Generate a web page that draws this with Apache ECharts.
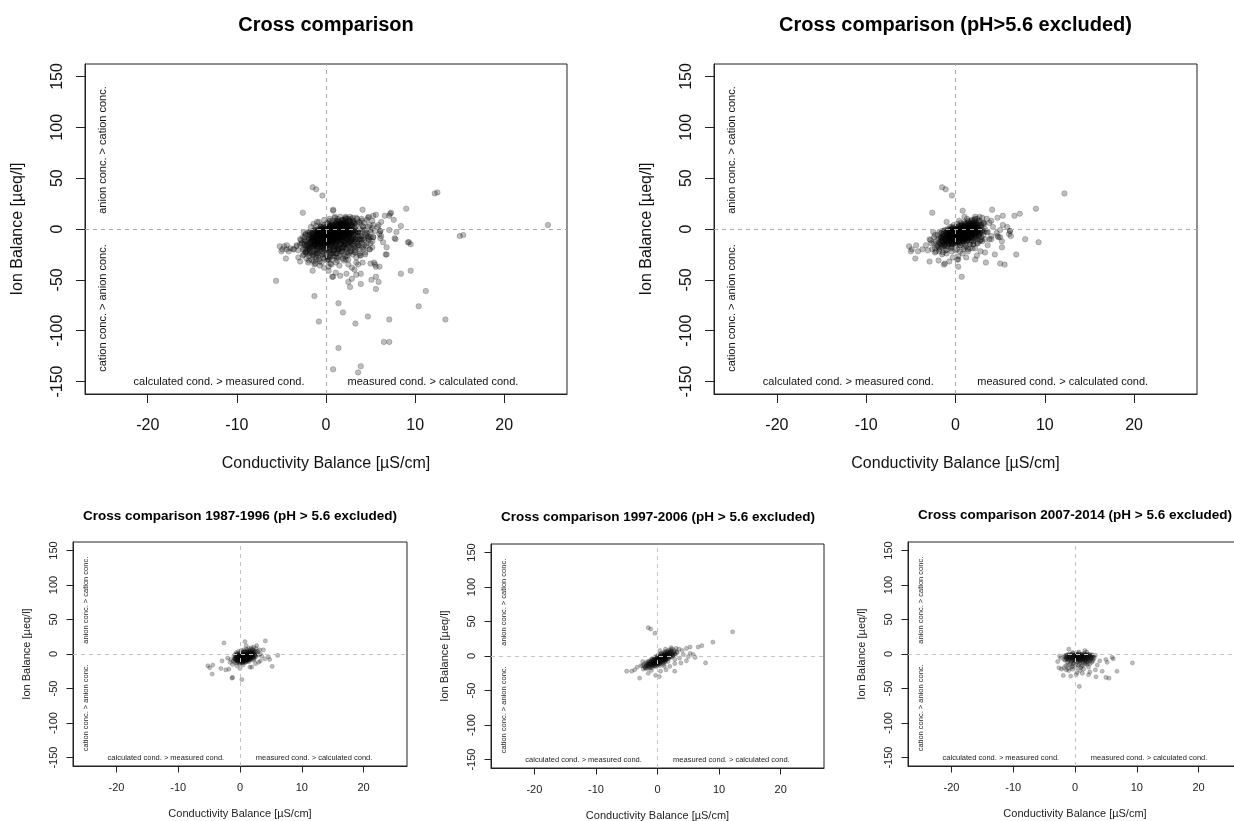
<!DOCTYPE html>
<html>
<head>
<meta charset="utf-8">
<title>Cross comparison</title>
<script src="https://cdn.jsdelivr.net/npm/echarts@6.0.0/dist/echarts.min.js"></script>
<style>
html, body { margin: 0; padding: 0; background: #fff; }
#chart { width: 1234px; height: 821px; }
</style>
</head>
<body>
<div id="chart"></div>
<script>
// axis ticks
const xTicks = [-20, -10, 0, 10, 20];
const yTicks = [-150, -100, -50, 0, 50, 100, 150];
const xRange = [-27.04, 27.04];
const yRange = [-162.24, 162.24];

const titles = [
  'Cross comparison',
  'Cross comparison (pH>5.6 excluded)',
  'Cross comparison 1987-1996 (pH > 5.6 excluded)',
  'Cross comparison 1997-2006 (pH > 5.6 excluded)',
  'Cross comparison 2007-2014 (pH > 5.6 excluded)'
];
const xName = 'Conductivity Balance [µS/cm]';
const yName = 'Ion Balance [µeq/l]';
const notes = ['anion conc. > cation conc.', 'cation conc. > anion conc.',
  'calculated cond. > measured cond.', 'measured cond. > calculated cond.'];

// [conductivity balance, ion balance] per sample, pH > 5.6 excluded
const period1987 = [
  [-1.0,-3],[-0.9,-7],[-1.1,-10],[-0.8,-1],[-0.7,-5],[-0.8,-8],[-0.9,-12],
  [-0.6,2],[-0.5,-4],[-0.6,-6],[-0.7,-9],[-0.5,-13],[-0.4,0],[-0.3,-3],[-0.4,-6],[-0.2,-8],[-0.4,-11],
  [-0.2,4],[-0.1,-1],[-0.2,-4],[-0.1,-7],[-0.3,-10],[-0.1,-14],[0.0,2],[0.1,-2],[0.0,-5],[0.1,-7],[-0.1,-9],[0.0,-12],
  [0.2,5],[0.3,0],[0.2,-3],[0.3,-6],[0.2,-8],[0.3,-11],[0.4,3],[0.5,-1],[0.4,-4],[0.5,-5],[0.4,-7],[0.5,-10],[0.4,-13],
  [0.6,6],[0.7,1],[0.6,-2],[0.7,-4],[0.6,-6],[0.7,-8],[0.6,-11],[0.8,4],[0.9,0],[0.8,-3],[0.9,-5],[0.8,-7],[0.9,-9],[0.8,-12],
  [1.0,7],[1.1,2],[1.0,-1],[1.1,-4],[1.0,-6],[1.1,-8],[1.0,-10],[1.2,5],[1.3,1],[1.2,-2],[1.3,-5],[1.2,-7],[1.3,-9],
  [1.4,8],[1.5,3],[1.4,0],[1.5,-3],[1.4,-6],[1.5,-9],[1.6,6],[1.7,2],[1.6,-1],[1.7,-4],[1.6,-7],
  [1.8,9],[1.9,4],[1.8,0],[1.9,-3],[1.8,-6],[2.0,7],[2.1,3],[2.0,-1],[2.1,-5],[2.3,5],[2.2,1],[2.4,-3],[2.3,-7],
  [2.6,8],[2.7,2],[2.5,-2],[2.9,4],[3.0,-1],[3.2,6],[3.3,0],
  [-0.7,-2],[-0.6,-7],[-0.5,0],[-0.4,-9],[-0.3,-5],[-0.2,-2],[-0.1,-11],[0.0,-4],[0.0,0],[0.1,-8],[0.1,-5],[0.2,-1],
  [0.2,-10],[0.3,-3],[0.3,-7],[0.4,1],[0.4,-5],[0.4,-9],[0.5,-2],[0.5,-6],[0.5,-12],[0.6,0],[0.6,-4],[0.6,-8],
  [0.7,3],[0.7,-2],[0.7,-6],[0.7,-10],[0.8,-1],[0.8,-4],[0.8,-9],[0.9,2],[0.9,-3],[0.9,-7],[1.0,0],[1.0,-4],[1.0,-8],
  [1.1,-2],[1.1,-6],[1.1,-11],[1.2,3],[1.2,-4],[1.2,-9],[1.3,-1],[1.3,-6],[1.4,2],[1.4,-3],[1.4,-8],[1.5,0],[1.5,-5],
  [1.6,4],[1.6,-2],[1.6,-6],[1.7,1],[1.7,-5],[1.8,-2],[1.8,-8],[1.9,2],[1.9,-5],[2.0,0],[2.0,-3],[2.1,5],[2.1,-2],
  [2.2,-5],[2.3,2],[2.4,-1],[2.5,4],[2.6,-4],[-0.5,-10],[0.2,-13],[0.9,-12],[1.5,-11],[2.2,-9],[-0.8,-6],
  [-2.6,16],[0.8,18],[4.1,19],[6.1,-2],[5.2,-18],[0.3,-37],[-1.3,-35],[-1.2,-34],[-4.5,-29],[-5.2,-17],[-4.9,-20],
  [-4.4,-16],[-3.1,-21],[-2.3,-23],[-1.8,-22],[-2.9,-10],[-1.2,-15],[4.6,-4],[4.8,-8],[2.7,12],[3.8,6],[1.6,-19],
  [1.9,-19],[0.0,-21],[3.5,-3],[4.0,-7],[3.3,-10],[-1.5,-8],[-2.0,-6],[2.2,10],[1.0,12],[-0.5,-17],[0.5,-16],
  [2.5,-14],[3.0,-12],[-1.6,-12]
];
const period1997 = [
  [-2.2,-12],[-2.1,-16],[-2.3,-19],[-1.9,-10],[-1.8,-14],[-2.0,-17],[-1.6,-8],[-1.5,-12],[-1.7,-15],[-1.6,-18],
  [-1.3,-7],[-1.2,-10],[-1.4,-13],[-1.3,-16],[-1.0,-5],[-0.9,-8],[-1.1,-11],[-1.0,-14],[-0.9,-17],
  [-0.8,-4],[-0.7,-7],[-0.8,-10],[-0.7,-12],[-0.8,-15],[-0.5,-3],[-0.4,-6],[-0.5,-8],[-0.6,-11],[-0.5,-14],
  [-0.3,-1],[-0.2,-5],[-0.3,-7],[-0.2,-9],[-0.3,-12],[-0.2,-15],[0.0,0],[0.1,-3],[0.0,-6],[-0.1,-8],[0.1,-10],[0.0,-13],
  [0.2,2],[0.3,-2],[0.2,-5],[0.3,-7],[0.2,-9],[0.3,-12],[0.5,3],[0.4,-1],[0.5,-4],[0.6,-6],[0.5,-8],[0.4,-11],
  [0.7,4],[0.8,0],[0.7,-3],[0.8,-5],[0.7,-7],[0.8,-10],[1.0,5],[1.1,1],[1.0,-2],[0.9,-4],[1.0,-6],[1.1,-9],
  [1.2,6],[1.3,2],[1.2,-1],[1.3,-3],[1.2,-5],[1.3,-8],[1.5,7],[1.6,3],[1.5,0],[1.4,-2],[1.5,-5],
  [1.8,8],[1.7,4],[1.8,1],[1.9,-2],[1.8,-4],[2.1,9],[2.0,5],[2.2,2],[2.1,-1],[2.4,10],[2.3,6],[2.5,3],[2.4,0],
  [2.7,8],[2.8,4],[2.6,1],[3.0,11],[3.1,6],[2.9,2],
  [-1.8,-13],[-1.6,-11],[-1.5,-15],[-1.4,-9],[-1.2,-12],[-1.1,-8],[-1.0,-11],[-0.9,-13],[-0.8,-6],[-0.7,-9],
  [-0.6,-12],[-0.6,-5],[-0.5,-10],[-0.4,-8],[-0.4,-3],[-0.3,-10],[-0.2,-6],[-0.1,-4],[-0.1,-11],[0.0,-8],[0.0,-2],
  [0.1,-6],[0.1,-9],[0.2,-4],[0.2,-11],[0.3,-1],[0.3,-6],[0.4,-9],[0.4,-3],[0.5,-6],[0.5,0],[0.6,-9],[0.6,-3],
  [0.7,1],[0.7,-5],[0.8,-8],[0.8,-2],[0.9,2],[0.9,-6],[1.0,-1],[1.0,-4],[1.1,3],[1.1,-7],[1.2,0],[1.2,-3],[1.3,4],
  [1.3,-6],[1.4,1],[1.4,-4],[1.5,2],[1.6,-1],[1.6,5],[1.7,-3],[1.7,2],[1.9,6],[1.9,0],[2.0,3],[2.2,-2],[2.2,7],
  [2.3,4],[2.5,1],[2.6,6],[-1.9,-18],[-1.2,-17],[-0.4,-15],[0.4,-14],[1.0,-12],[1.7,-8],[-2.4,-14],[2.8,-5],
  [-1.5,41],[-1.1,39],[-0.4,33],[12.2,35],[9.0,20],[7.2,15],[6.6,13],[5.3,13],[4.7,11],[7.8,-10],[6.1,-2],[5.8,2],
  [5.3,4],[2.8,-22],[4.7,-7],[-2.9,-32],[-5.0,-22],[-4.2,-22],[-3.7,-20],[-1.5,-25],[-0.3,-28],[0.3,-30],[1.4,-20],
  [1.1,-15],[2.8,-11],[-3.3,-16],[-2.7,-14],[4.0,8],[3.5,10],[3.2,5],[4.2,2],[3.6,-3],[-2.4,-8],[0.5,-22],[-1.0,-21],
  [2.0,-15],[5.0,-1],[3.8,-10],[2.2,12],[1.3,10],[0.4,8]
];
const period2007 = [
  [-1.8,-3],[-1.7,-8],[-1.8,-20],[-1.5,-2],[-1.4,-5],[-1.6,-9],[-1.5,-17],[-1.4,-23],
  [-1.2,-1],[-1.1,-4],[-1.3,-7],[-1.2,-12],[-1.1,-21],[-0.9,0],[-0.8,-3],[-1.0,-6],[-0.9,-9],[-0.8,-15],[-1.0,-24],
  [-0.6,-1],[-0.5,-4],[-0.7,-7],[-0.6,-10],[-0.5,-19],[-0.3,1],[-0.2,-2],[-0.4,-5],[-0.3,-8],[-0.2,-13],[-0.4,-22],
  [0.0,-1],[0.1,-3],[-0.1,-6],[0.0,-9],[0.1,-16],[0.3,0],[0.4,-2],[0.2,-5],[0.3,-7],[0.4,-11],[0.2,-20],[0.3,-27],
  [0.6,1],[0.7,-3],[0.5,-6],[0.6,-8],[0.7,-14],[0.9,-1],[1.0,-4],[0.8,-7],[0.9,-10],[1.0,-18],[0.8,-24],
  [1.2,0],[1.3,-2],[1.1,-5],[1.2,-8],[1.3,-12],[1.5,1],[1.6,-3],[1.4,-6],[1.5,-9],[1.6,-15],[1.4,-22],
  [1.8,-1],[1.9,-4],[1.7,-7],[1.8,-11],[2.1,0],[2.2,-3],[2.0,-6],[2.1,-9],[2.2,-19],
  [2.4,-2],[2.5,-5],[2.3,-8],[2.4,-14],[2.7,-1],[2.8,-4],[2.6,-7],[2.7,-12],[3.0,-3],[3.1,-6],[2.9,-10],
  [-1.6,-4],[-1.4,-7],[-1.3,-2],[-1.1,-9],[-1.0,-5],[-0.9,-2],[-0.8,-7],[-0.7,-4],[-0.6,-12],[-0.5,-1],[-0.4,-7],
  [-0.3,-4],[-0.2,-10],[-0.1,-2],[0.0,-5],[0.0,-8],[0.1,-1],[0.2,-7],[0.2,-3],[0.3,-10],[0.4,-5],[0.4,-1],[0.5,-8],
  [0.5,-3],[0.6,-6],[0.7,-1],[0.7,-9],[0.8,-4],[0.8,-12],[0.9,-7],[1.0,-2],[1.0,-5],[1.1,-9],[1.1,-1],[1.2,-4],
  [1.3,-7],[1.3,-11],[1.4,-2],[1.5,-5],[1.6,-8],[1.6,-1],[1.7,-4],[1.8,-9],[1.9,-2],[1.9,-6],[2.0,-12],[2.1,-4],
  [2.2,-7],[2.3,-1],[2.4,-10],[2.5,-3],[2.6,-6],[2.8,-2],[2.9,-8],[-1.2,-16],[-0.5,-18],[0.5,-16],[1.2,-17],
  [2.0,-15],[-0.3,-14],[0.9,-20],[1.7,-13],
  [-1.0,7],[-2.5,-3],[-2.8,-11],[-2.3,-6],[0.7,-47],[9.3,-13],[6.8,-25],[5.5,-35],[5.0,-34],[4.4,-25],[6.0,-5],
  [6.2,-7],[5.0,-8],[5.2,-12],[3.3,-23],[3.4,-33],[1.6,5],[1.9,3],[-1.9,-31],[-0.7,-32],[-2.2,-22],[-2.6,-20],
  [0.2,-30],[1.2,-28],[2.4,-26],[3.6,-16],[4.0,-10],[3.3,-2],[0.6,3],[-0.4,2],[2.2,-30]
];
// samples with pH > 5.6, only in the first panel
const highPhSamples = [
  [-2.6,-8],[-2.7,-14],[-2.5,-20],[-2.6,-26],[-2.3,-5],[-2.4,-11],[-2.2,-17],[-2.3,-23],[-2.2,-29],
  [-2.0,-3],[-1.9,-9],[-2.1,-15],[-2.0,-21],[-1.9,-27],[-2.0,-33],[-1.7,2],[-1.8,-6],[-1.6,-12],[-1.7,-18],[-1.8,-24],[-1.6,-30],
  [-1.4,5],[-1.3,-1],[-1.5,-8],[-1.4,-14],[-1.3,-20],[-1.5,-26],[-1.4,-32],[-1.1,3],[-1.0,-3],[-1.2,-10],[-1.1,-16],[-1.0,-22],[-1.2,-28],
  [-0.8,7],[-0.7,0],[-0.9,-6],[-0.8,-12],[-0.7,-18],[-0.9,-24],[-0.8,-30],[-0.5,4],[-0.4,-2],[-0.6,-8],[-0.5,-14],[-0.4,-20],[-0.6,-26],[-0.5,-33],
  [-0.2,9],[-0.1,1],[-0.3,-5],[-0.2,-11],[-0.1,-17],[-0.3,-23],[-0.2,-29],[0.1,6],[0.2,-1],[0.0,-7],[0.1,-13],[0.2,-19],[0.0,-25],[0.1,-31],
  [0.4,10],[0.5,3],[0.3,-4],[0.4,-10],[0.5,-16],[0.3,-22],[0.4,-28],[0.5,-34],[0.7,8],[0.8,1],[0.6,-6],[0.7,-12],[0.8,-18],[0.6,-24],[0.7,-30],
  [1.0,11],[1.1,4],[0.9,-3],[1.0,-9],[1.1,-15],[0.9,-21],[1.0,-27],[1.1,-33],[1.3,7],[1.4,0],[1.2,-6],[1.3,-12],[1.4,-18],[1.2,-24],[1.3,-31],
  [1.6,12],[1.7,5],[1.5,-2],[1.6,-8],[1.7,-14],[1.5,-20],[1.6,-26],[1.9,9],[2.0,2],[1.8,-4],[1.9,-10],[2.0,-16],[1.8,-22],[1.9,-29],
  [2.2,11],[2.3,4],[2.1,-3],[2.2,-9],[2.3,-15],[2.1,-21],[2.2,-27],[2.5,7],[2.6,1],[2.4,-5],[2.5,-11],[2.6,-17],[2.4,-23],[2.5,-30],
  [2.8,10],[2.9,3],[2.7,-4],[2.8,-10],[2.9,-16],[2.7,-22],[3.1,8],[3.2,2],[3.0,-6],[3.1,-12],[3.2,-18],[3.0,-25],
  [3.4,11],[3.5,5],[3.3,-1],[3.4,-8],[3.5,-14],[3.3,-21],[3.4,-28],[3.7,7],[3.8,0],[3.6,-7],[3.7,-13],[3.8,-20],
  [4.0,10],[4.1,3],[3.9,-4],[4.0,-11],[4.1,-18],[3.9,-26],[4.3,6],[4.4,-1],[4.2,-9],[4.3,-16],[4.4,-23],
  [4.6,9],[4.7,2],[4.5,-6],[4.6,-14],[4.9,4],[5.0,-3],[4.8,-11],[4.9,-20],[5.2,1],[5.3,-8],
  [-0.9,-4],[-1.0,-9],[-0.9,-15],[-1.0,-19],[-0.3,-6],[-0.4,-13],[-0.3,-18],[0.3,-9],[0.2,-15],[0.3,-21],[0.2,-2],
  [0.9,-11],[0.8,-17],[0.9,-5],[0.8,-23],[1.5,-10],[1.4,-16],[1.5,-4],[1.4,-22],[2.1,-12],[2.0,-18],[2.1,-7],
  [2.7,-13],[2.6,-8],[2.7,-19],[3.3,-10],[3.2,-17],[3.3,-4],
  [-2.4,-16],[-2.1,-12],[-2.1,-24],[-1.9,-19],[-1.8,-3],[-1.6,-23],[-1.5,-5],[-1.4,-17],[-1.3,-11],[-1.2,-25],
  [-1.1,-6],[-1.0,-14],[-0.9,-27],[-0.8,-9],[-0.7,-21],[-0.6,-3],[-0.5,-17],[-0.4,-25],[-0.3,-11],[-0.2,-20],
  [-0.1,-7],[0.0,-16],[0.1,-27],[0.2,-5],[0.3,-13],[0.4,-19],[0.5,-25],[0.5,-8],[0.6,-15],[0.7,-2],[0.8,-21],
  [0.8,-27],[0.9,-9],[1.0,-17],[1.1,-24],[1.2,-3],[1.2,-13],[1.3,-20],[1.4,-28],[1.5,-7],[1.6,-15],[1.7,-23],
  [1.8,-1],[1.8,-11],[1.9,-18],[2.0,-25],[2.1,-6],[2.2,-14],[2.3,-20],[2.4,-1],[2.4,-9],[2.5,-16],[2.6,-24],
  [2.7,-6],[2.8,-13],[2.9,-19],[3.0,-2],[3.0,-9],[3.1,-15],[3.2,-23],[3.3,-6],[3.4,-12],[3.5,-18],[3.6,-3],
  [3.6,-10],[3.7,-16],[3.8,-24],[3.9,-7],[4.0,-14],[4.1,-1],[4.2,-20],[4.3,-11],[4.4,-4],[4.5,-17],[4.7,-9],
  [2.0,6],[1.2,8],[0.3,5],[-0.6,2],[3.0,7],[2.6,9],
  [24.9,4],[15.0,-7],[15.4,-6],[12.5,36],[8.4,3],[7.9,-3],[7.7,-9],[9.2,-13],[9.5,-15],[9.5,-41],[8.4,-44],
  [11.2,-61],[10.4,-76],[13.4,-89],[7.1,-89],[6.5,-111],[7.1,-111],[4.7,-86],[3.3,-93],[1.9,-82],[1.4,-73],
  [1.4,-117],[0.8,-138],[3.6,-141],[3.9,-135],[-0.8,-91],[-1.3,-66],[-5.6,-51],[0.8,19],[7.3,16],[7.1,13],
  [7.6,9],[6.2,7],[7.1,-1],[6.8,-18],[6.7,-25],[6.1,-9],[6.4,-13],[5.6,-37],[5.4,-33],[6.0,-37],[5.6,-47],
  [5.9,-52],[5.6,-59],[5.1,-50],[3.9,-44],[3.9,-54],[3.4,-45],[2.9,-49],[2.7,-57],[2.5,-52],[2.3,-44],[1.6,-46],
  [0.8,-47],[1.1,-43],[2.5,-35],[2.9,-38],[3.2,-40],[3.6,-35],[4.1,-33],[3.8,-26],[4.9,-20],[5.0,-14],[5.3,-8],
  [5.5,-2],[5.9,4],[5.2,8],[4.8,12],[5.6,14],[-4.7,-17],[-4.4,-20],[-4.0,-19],[-3.6,-20],[-3.3,-17],[-2.9,-15],
  [-2.5,-25],[-3.1,-28],[-1.1,-30],[-0.7,-36],[-0.2,-38],[0.3,-41],[-1.5,-41],[0.6,-35],[1.5,-36],[2.0,-31]
];

const excludedSamples = period1987.concat(period1997, period2007);
const allSamples = excludedSamples.concat(highPhSamples);

const FONT = '"Liberation Sans", Arial, Helvetica, sans-serif';

const bigStyle = { tickFont: 16, nameFont: 16, titleFont: 20, noteFont: 11, tick: 9, xMargin: 24, yMargin: 19,
  xNameGap: 62, yNameGap: 59, symbol: 5.5, border: 0.8, dash: '#aaaaaa', color: '#111' };
const smallStyle = { tickFont: 11, nameFont: 11, titleFont: 13.5, noteFont: 7.5, tick: 6.5, xMargin: 16, yMargin: 13.5,
  xNameGap: 42, yNameGap: 41, symbol: 4.2, border: 0.7, dash: '#c4c4c4', color: '#222' };

const panels = [
  { title: titles[0], data: allSamples, left: 85, top: 64, width: 482, height: 330, tx: 326, ty: 25, s: bigStyle },
  { title: titles[1], data: excludedSamples, left: 714, top: 64, width: 483, height: 330, tx: 955.5, ty: 25, s: bigStyle },
  { title: titles[2], data: period1987, left: 73, top: 542, width: 334, height: 224, tx: 240, ty: 516, s: smallStyle },
  { title: titles[3], data: period1997, left: 491, top: 544, width: 333, height: 224, tx: 658, ty: 517, s: smallStyle },
  { title: titles[4], data: period2007, left: 908, top: 542, width: 334, height: 224, tx: 1075, ty: 515, s: smallStyle }
];

const chart = echarts.init(document.getElementById('chart'));

let grids = [], xAxes = [], yAxes = [], series = [], graphics = [];
panels.forEach((p, i) => {
  const s = p.s;
  grids.push({
    left: p.left, top: p.top, width: p.width, height: p.height,
    show: true, borderColor: '#222', borderWidth: 1, backgroundColor: 'transparent',
    containLabel: false, outerBoundsMode: 'none'
  });
  xAxes.push({
    gridIndex: i, type: 'value', min: xRange[0], max: xRange[1],
    name: xName, nameLocation: 'middle', nameGap: s.xNameGap,
    nameTextStyle: { fontSize: s.nameFont, fontFamily: FONT, color: s.color },
    axisLine: { show: true, onZero: false, lineStyle: { color: '#222' } },
    axisTick: { show: true, inside: false, length: s.tick, customValues: xTicks, lineStyle: { color: '#222' } },
    axisLabel: { customValues: xTicks, margin: s.xMargin, fontSize: s.tickFont, fontFamily: FONT, color: s.color, hideOverlap: false },
    splitLine: { show: false }
  });
  yAxes.push({
    gridIndex: i, type: 'value', min: yRange[0], max: yRange[1],
    name: yName, nameLocation: 'middle', nameGap: s.yNameGap, nameRotate: 90,
    nameTextStyle: { fontSize: s.nameFont, fontFamily: FONT, color: s.color },
    axisLine: { show: true, onZero: false, lineStyle: { color: '#222' } },
    axisTick: { show: true, inside: false, length: s.tick, customValues: yTicks, lineStyle: { color: '#222' } },
    axisLabel: { customValues: yTicks, rotate: 90, margin: s.yMargin, fontSize: s.tickFont, fontFamily: FONT, color: s.color, hideOverlap: false },
    splitLine: { show: false }
  });
  series.push({
    type: 'scatter', xAxisIndex: i, yAxisIndex: i, data: p.data,
    symbol: 'circle', symbolSize: s.symbol, silent: true,
    itemStyle: { color: 'rgba(0,0,0,0.32)', borderColor: 'rgba(0,0,0,0.3)', borderWidth: s.border },
    emphasis: { disabled: true },
    markLine: {
      silent: true, symbol: 'none', animation: false, label: { show: false },
      lineStyle: { type: [4, 4], color: s.dash, width: 1 },
      emphasis: { disabled: true },
      data: [{ xAxis: 0 }, { yAxis: 0 }]
    }
  });
  graphics.push({
    type: 'text', x: p.tx, y: p.ty, silent: true,
    style: { text: p.title, align: 'center', verticalAlign: 'middle', fontSize: s.titleFont,
      fontWeight: 'bold', fontFamily: FONT, fill: '#000' }
  });
});

chart.setOption({ animation: false, grid: grids, xAxis: xAxes, yAxis: yAxes, series: series, graphic: graphics });

// quadrant notes, placed through each grid's scales
panels.forEach((p, i) => {
  const s = p.s;
  const at = (x, y) => chart.convertToPixel({ gridIndex: i }, [x, y]);
  const base = { fontSize: s.noteFont, fontFamily: FONT, fill: s.color, verticalAlign: 'middle' };
  let a = at(-25, 15), b = at(-25, -15), c = at(-12, -150), d = at(12, -150);
  graphics.push({ type: 'text', x: a[0], y: a[1], rotation: Math.PI / 2, silent: true,
    style: Object.assign({ text: notes[0], align: 'left' }, base) });
  graphics.push({ type: 'text', x: b[0], y: b[1], rotation: Math.PI / 2, silent: true,
    style: Object.assign({ text: notes[1], align: 'right' }, base) });
  graphics.push({ type: 'text', x: c[0], y: c[1], silent: true,
    style: Object.assign({ text: notes[2], align: 'center' }, base) });
  graphics.push({ type: 'text', x: d[0], y: d[1], silent: true,
    style: Object.assign({ text: notes[3], align: 'center' }, base) });
});
chart.setOption({ graphic: graphics });
</script>
</body>
</html>
